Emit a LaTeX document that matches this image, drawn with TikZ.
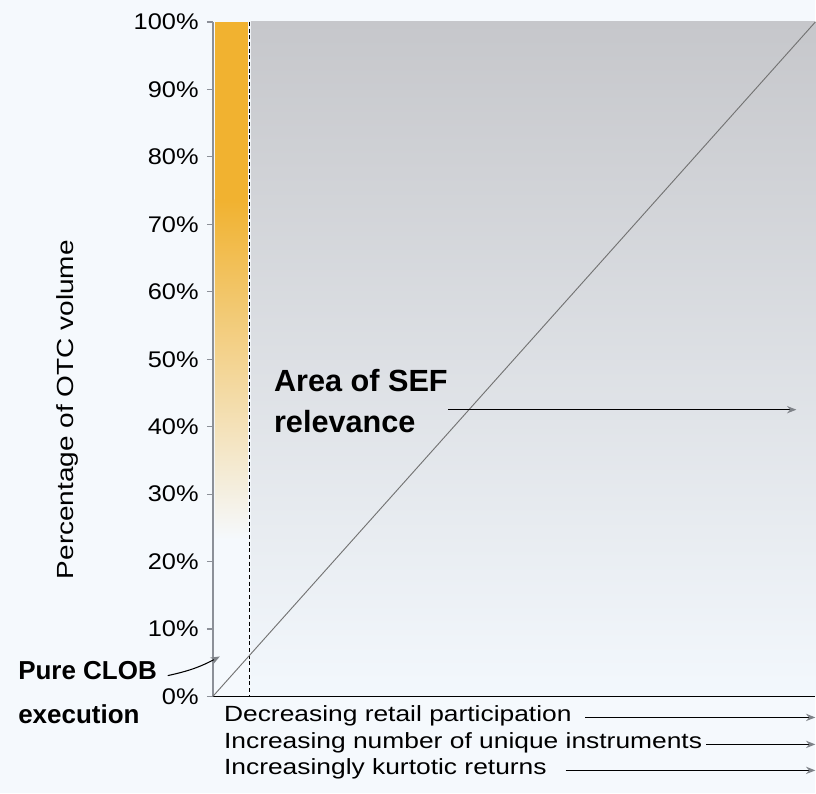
\documentclass[tikz,border=0pt]{standalone}
\usepackage{fontspec}
\setmainfont{Liberation Sans}
\newfontfamily\widefont{Liberation Sans}[FakeStretch=1.2]
\newfontfamily\tickfont{Liberation Sans}[FakeStretch=1.12]
\usetikzlibrary{arrows.meta}

\definecolor{bgblue}{HTML}{F5F9FD}
\definecolor{barorange}{HTML}{F1B230}
\definecolor{areagray}{HTML}{C6C7CB}
\definecolor{areamid}{HTML}{DFE4EB}
\definecolor{areablue}{HTML}{F3F8FD}
\definecolor{axisgray}{HTML}{8C9098}
\definecolor{tipgray}{HTML}{7E8288}

\begin{document}
\begin{tikzpicture}[x=0.75pt,y=-0.75pt]
% Chart style
\tikzset{
    pctlabel/.style={anchor=east,inner sep=0pt,font=\tickfont\fontsize{17}{20}\selectfont},
    axistitle/.style={rotate=90,anchor=base,inner sep=0pt,font=\widefont\fontsize{17.5}{20}\selectfont},
    trendlabel/.style={anchor=base west,inner sep=0pt,font=\widefont\fontsize{16.5}{19}\selectfont},
    headlabel/.style={align=left,inner sep=0pt,font=\bfseries\fontsize{23}{31}\selectfont},
    tipgray arrow/.style={line width=0.8pt,-{Stealth[length=7pt,width=5.5pt,color=tipgray]}}
}
% Background
\fill[bgblue] (0,0) rectangle (816,794);
% Corners of the chart
\coordinate (O) at (213,697);
\coordinate (top) at (213,22);
\coordinate (xend) at (816,697);
\coordinate (corner) at (816,22);
% Shaded regions
\fill[barorange] (215,22) rectangle (248,200);
\shade[top color=barorange,bottom color=bgblue] (215,200) rectangle (248,540);
\shade[top color=areagray,middle color=areamid,bottom color=areablue] (251,22) rectangle (xend);
\draw[line width=0.9pt,dash pattern=on 3pt off 2pt] (250,22) -- (250,697);
% Axes
\draw[axisgray,line width=1.5pt] (O) -- (top);
\foreach \p in {0,10,...,100}{
    \draw[axisgray,line width=0.8pt] (207,697-6.75*\p) -- (213,697-6.75*\p);
    \node[pctlabel] (p\p) at (199,697-6.75*\p) {\p\%};
}
\draw[line width=1pt] (O) -- (xend);
\draw[black!55,line width=0.7pt] (O) -- (corner);
\node[axistitle] (ytitle) at (74,410) {Percentage of OTC volume};
% Labels
\node[headlabel,anchor=north west] (sef) at (274,369) {Area of SEF\\relevance};
\coordinate (sefend) at (797,410);
\draw[tipgray arrow] (sef.east |- sefend) -- (sefend);
\node[headlabel,font=\bfseries\fontsize{19.5}{33}\selectfont,anchor=north west] (clob) at (18,662) {Pure CLOB\\execution};
\coordinate (cloblip) at (220,657);
\draw[tipgray arrow] ([xshift=8pt,yshift=13pt]clob.east) to[bend right=8] (cloblip);
% Trend arrows under the x axis
\node[trendlabel] (retail) at (224,722) {Decreasing retail participation};
\node[trendlabel] (instr) at (224,749) {Increasing number of unique instruments};
\node[trendlabel] (kurt) at (224,775) {Increasingly kurtotic returns};
\coordinate (rs) at ([xshift=10pt,yshift=3pt]retail.base east);
\coordinate (is) at ([xshift=3pt,yshift=3pt]instr.base east);
\coordinate (ks) at ([xshift=14pt,yshift=3pt]kurt.base east);
\draw[tipgray arrow] (rs) -- (rs -| xend);
\draw[tipgray arrow] (is) -- (is -| xend);
\draw[tipgray arrow] (ks) -- (ks -| xend);
\end{tikzpicture}
\end{document}
